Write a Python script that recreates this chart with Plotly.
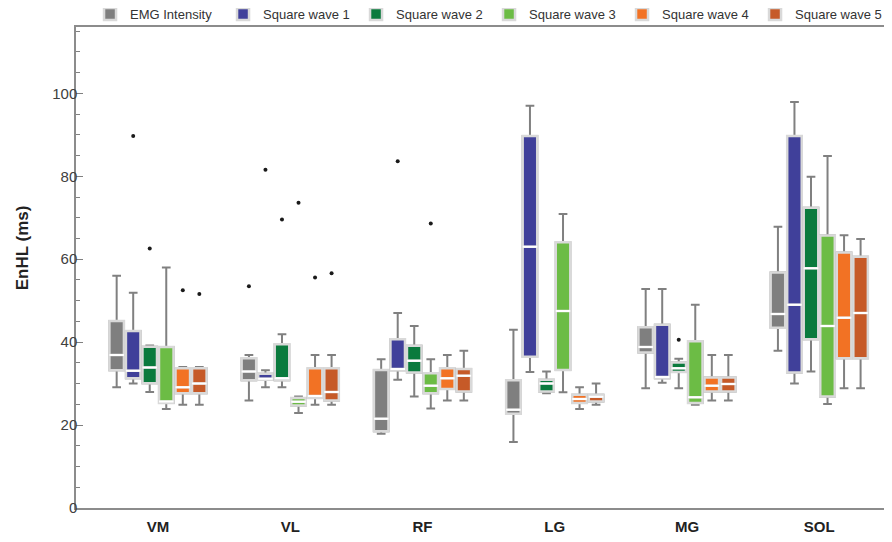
import plotly.graph_objects as go

categories = ["VM", "VL", "RF", "LG", "MG", "SOL"]
series_names = ["EMG Intensity", "Square wave 1", "Square wave 2",
                "Square wave 3", "Square wave 4", "Square wave 5"]
series_colors = ["#7F7F7F", "#40409A", "#0A7A3D", "#6CBC45", "#F27224", "#C65A28"]

# EMG Intensity
emg_lower = [29.1, 25.9, 17.9, 15.9, 28.9, 37.9]
emg_q1 = [33.2, 30.8, 18.5, 22.7, 37.5, 43.5]
emg_med = [36.9, 32.9, 21.5, 23.7, 38.8, 46.8]
emg_q3 = [45.1, 36.1, 33.3, 30.8, 43.6, 56.8]
emg_upper = [56.0, 36.9, 35.9, 43.0, 52.8, 67.8]
emg_out_x = ["VL"]
emg_out_y = [53.5]

# Square wave 1
sw1_lower = [30.0, 29.1, 30.9, 32.8, 30.2, 30.0]
sw1_q1 = [31.3, 30.9, 33.2, 36.5, 31.3, 32.7]
sw1_med = [33.1, 31.2, 33.5, 63.0, 31.6, 49.0]
sw1_q3 = [42.7, 32.4, 40.7, 89.7, 44.2, 89.7]
sw1_upper = [51.9, 33.2, 47.0, 97.0, 52.8, 97.9]
sw1_out_x = ["VM", "VL", "RF"]
sw1_out_y = [89.7, 81.6, 83.6]

# Square wave 2
sw2_lower = [28.0, 29.1, 26.9, 27.7, 28.9, 32.9]
sw2_q1 = [30.1, 30.8, 32.7, 28.1, 32.8, 40.7]
sw2_med = [33.9, 31.3, 35.5, 30.0, 33.7, 57.8]
sw2_q3 = [38.9, 39.5, 39.1, 30.9, 35.1, 72.4]
sw2_upper = [39.2, 41.9, 43.9, 32.9, 36.0, 79.9]
sw2_out_x = ["VM", "VL", "MG"]
sw2_out_y = [62.6, 69.6, 40.6]

# Square wave 3
sw3_lower = [23.9, 22.9, 24.0, 27.9, 24.9, 25.1]
sw3_q1 = [25.3, 24.7, 27.7, 33.3, 25.3, 26.9]
sw3_med = [25.7, 25.6, 29.5, 47.5, 26.7, 43.9]
sw3_q3 = [38.8, 26.5, 32.5, 64.1, 40.2, 65.7]
sw3_upper = [58.0, 26.9, 35.9, 70.9, 49.0, 84.9]
sw3_out_x = ["VL", "RF"]
sw3_out_y = [73.6, 68.6]

# Square wave 4
sw4_lower = [24.9, 24.9, 25.9, 23.9, 25.9, 28.9]
sw4_q1 = [27.7, 26.5, 28.7, 25.3, 28.1, 36.1]
sw4_med = [29.1, 27.0, 31.3, 26.3, 29.5, 45.9]
sw4_q3 = [33.7, 33.7, 33.7, 27.3, 31.5, 61.6]
sw4_upper = [34.0, 36.9, 36.9, 29.1, 36.9, 65.8]
sw4_out_x = ["VM", "VL"]
sw4_out_y = [52.5, 55.6]

# Square wave 5
sw5_lower = [24.9, 24.9, 25.9, 24.9, 25.9, 28.9]
sw5_q1 = [27.7, 25.9, 28.1, 25.7, 28.1, 36.1]
sw5_med = [30.0, 28.0, 31.9, 26.8, 29.9, 47.0]
sw5_q3 = [33.7, 33.7, 33.5, 27.3, 31.5, 60.6]
sw5_upper = [34.0, 36.9, 37.9, 30.0, 36.9, 64.9]
sw5_out_x = ["VM", "VL"]
sw5_out_y = [51.6, 56.6]

series = [
    (emg_lower, emg_q1, emg_med, emg_q3, emg_upper, emg_out_x, emg_out_y),
    (sw1_lower, sw1_q1, sw1_med, sw1_q3, sw1_upper, sw1_out_x, sw1_out_y),
    (sw2_lower, sw2_q1, sw2_med, sw2_q3, sw2_upper, sw2_out_x, sw2_out_y),
    (sw3_lower, sw3_q1, sw3_med, sw3_q3, sw3_upper, sw3_out_x, sw3_out_y),
    (sw4_lower, sw4_q1, sw4_med, sw4_q3, sw4_upper, sw4_out_x, sw4_out_y),
    (sw5_lower, sw5_q1, sw5_med, sw5_q3, sw5_upper, sw5_out_x, sw5_out_y),
]

FONT = "Liberation Sans, Arial, sans-serif"
WHISKER = "#808080"
HALO = "#D9D9D9"

fig = go.Figure()
for name, color, (lo, q1, med, q3, up, ox, oy) in zip(series_names, series_colors, series):
    common = dict(x=categories, offsetgroup=name, alignmentgroup="all",
                  legendgroup=name, hoverinfo="skip")
    # whiskers + caps
    fig.add_trace(go.Box(q1=q1, median=med, q3=q3, lowerfence=lo, upperfence=up,
                         fillcolor=color, line=dict(color=WHISKER, width=2),
                         whiskerwidth=0.6, showlegend=False, name=name, **common))
    # box with light halo outline
    fig.add_trace(go.Box(q1=q1, median=med, q3=q3, lowerfence=q1, upperfence=q3,
                         fillcolor=color, line=dict(color=HALO, width=2.5),
                         whiskerwidth=0, showlegend=True, name=name, **common))
    # white median line
    fig.add_trace(go.Box(q1=med, median=med, q3=med, lowerfence=med, upperfence=med,
                         fillcolor="rgba(0,0,0,0)", line=dict(color="white", width=2),
                         whiskerwidth=0, showlegend=False, name=name, **common))
    # outliers
    if ox:
        fig.add_trace(go.Box(x=ox, y=oy, offsetgroup=name, alignmentgroup="all",
                             legendgroup=name, name=name, showlegend=False,
                             boxpoints="all", jitter=0, pointpos=0,
                             fillcolor="rgba(0,0,0,0)", line=dict(width=0, color="rgba(0,0,0,0)"),
                             marker=dict(color="#1a1a1a", size=4), hoverinfo="skip"))

fig.add_annotation(text="<b>EnHL (ms)</b>", textangle=-90, xref="paper", yref="paper",
                   x=-0.0656, y=0.541, xanchor="center", yanchor="middle", showarrow=False,
                   font=dict(family=FONT, size=17, color="#222222"))

# page body has an 8px margin, so the figure is sized to fit the window exactly
fig.update_layout(
    width=884, height=534,
    margin=dict(l=68, r=0, t=19, b=34, autoexpand=False),
    paper_bgcolor="white", plot_bgcolor="white",
    boxmode="group", boxgap=0.25, boxgroupgap=0.12,
    font=dict(family=FONT, size=15, color="#333333"),
    showlegend=True,
    legend=dict(orientation="h", x=0.0172, xanchor="left", y=1.027, yanchor="middle",
                font=dict(family=FONT, size=13, color="#333333"),
                entrywidth=88, itemwidth=30,
                bgcolor="rgba(0,0,0,0)", traceorder="normal"),
    xaxis=dict(type="category", categoryorder="array", categoryarray=categories,
               range=[-0.62, 5.55], showgrid=False, zeroline=False,
               showline=True, linecolor="#8c8c8c", linewidth=1.5, mirror=True,
               ticks="", ticklabelstandoff=4,
               tickfont=dict(family=FONT, size=15, color="#222222", weight="bold")),
    yaxis=dict(range=[0, 116], dtick=20, showgrid=False, zeroline=False,
               showline=True, linecolor="#8c8c8c", linewidth=1.5,
               ticks="inside", ticklen=7, tickcolor="#808080", tickwidth=1.2,
               ticklabelstandoff=-6,
               minor=dict(dtick=5, ticks="inside", ticklen=4, tickcolor="#808080", tickwidth=1),
               tickfont=dict(family=FONT, size=15, color="#404040")),
)

fig.write_html("out.html")
